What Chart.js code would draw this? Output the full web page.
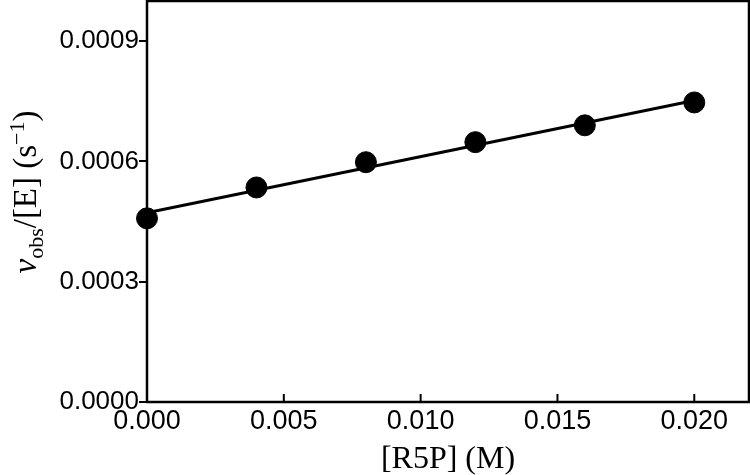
<!DOCTYPE html>
<html>
<head>
<meta charset="utf-8">
<script src="https://cdn.jsdelivr.net/npm/chart.js@4.4.0/dist/chart.umd.min.js"></script>
<style>
  html, body { margin: 0; padding: 0; background: #fff; }
  #wrap { width: 750px; height: 475px; }
</style>
</head>
<body>
<div id="wrap"><canvas id="chart1" width="750" height="475"></canvas></div>
<script>
// measured points
const concR5P = [0, 0.004, 0.008, 0.012, 0.016, 0.020];
const vObsE = [0.000458, 0.000535, 0.000598, 0.000648, 0.000690, 0.000747];
// fitted line end points
const fitX = [0, 0.020];
const fitY = [0.000472, 0.000752];

const xTicks = [0, 0.005, 0.010, 0.015, 0.020];
const yTicks = [0, 0.0003, 0.0006, 0.0009];

const tickFont = '"Liberation Sans", Arial, sans-serif';
const titleFont = '"Liberation Serif", "Times New Roman", serif';

const framePlugin = {
    id: 'frame',
    afterDraw(chart) {
        const { ctx, chartArea: a, scales } = chart;
        ctx.save();
        ctx.strokeStyle = '#000';
        ctx.lineWidth = 2.5;
        ctx.strokeRect(a.left, a.top, a.right - a.left, a.bottom - a.top);

        // inward x tick marks
        ctx.lineWidth = 2;
        xTicks.forEach(v => {
            const px = scales.x.getPixelForValue(v);
            ctx.beginPath();
            ctx.moveTo(px, a.bottom);
            ctx.lineTo(px, a.bottom - 8);
            ctx.stroke();
        });

        // x title
        ctx.fillStyle = '#000';
        ctx.font = '32px ' + titleFont;
        ctx.textAlign = 'center';
        ctx.textBaseline = 'alphabetic';
        ctx.fillText('[R5P] (M)', (a.left + a.right) / 2, 468);

        // y title, rotated rich text
        const big = '33px ' + titleFont;
        const small = '22px ' + titleFont;
        const parts = [
            { t: 'v', f: 'italic ' + big, dy: 0 },
            { t: 'obs', f: small, dy: 7 },
            { t: '/[E] (s', f: big, dy: 0 },
            { t: '\u22121', f: small, dy: -12 },
            { t: ')', f: big, dy: 0 },
        ];
        let total = 0;
        parts.forEach(p => { ctx.font = p.f; p.w = ctx.measureText(p.t).width; total += p.w; });
        ctx.translate(36, 192);
        ctx.rotate(-Math.PI / 2);
        ctx.textAlign = 'left';
        let x = -total / 2;
        parts.forEach(p => {
            ctx.font = p.f;
            ctx.fillText(p.t, x, p.dy);
            x += p.w;
        });
        ctx.restore();
    }
};

const ctx = document.getElementById('chart1').getContext('2d');
new Chart(ctx, {
    type: 'scatter',
    data: {
        datasets: [
            {
                label: 'fit',
                data: fitX.map((x, i) => ({ x: x, y: fitY[i] })),
                showLine: true,
                borderColor: '#000',
                borderWidth: 3,
                pointRadius: 0,
                clip: false,
            },
            {
                label: 'data',
                data: concR5P.map((x, i) => ({ x: x, y: vObsE[i] })),
                backgroundColor: '#000',
                borderColor: '#000',
                pointRadius: 10.5,
                pointHoverRadius: 10.5,
                clip: false,
            }
        ]
    },
    options: {
        responsive: false,
        animation: false,
        devicePixelRatio: 1,
        layout: { autoPadding: false, padding: { top: 1, right: 1, left: 0, bottom: 0 } },
        plugins: { legend: { display: false }, tooltip: { enabled: false } },
        scales: {
            x: {
                type: 'linear',
                min: 0,
                max: 0.022,
                afterFit(s) { s.height = 73; s.paddingLeft = 0; s.paddingRight = 0; },
                afterBuildTicks(s) { s.ticks = xTicks.map(v => ({ value: v })); },
                grid: { display: false, drawTicks: false },
                border: { display: false },
                ticks: {
                    color: '#000',
                    padding: 3,
                    maxRotation: 0,
                    font: { family: tickFont, size: 27 },
                    callback: v => v.toFixed(3),
                },
            },
            y: {
                type: 'linear',
                min: 0,
                max: 0.001,
                afterFit(s) { s.width = 147; s.paddingTop = 0; s.paddingBottom = 0; },
                afterBuildTicks(s) { s.ticks = yTicks.map(v => ({ value: v })); },
                grid: { drawOnChartArea: false, tickLength: 8, color: '#000', lineWidth: 2 },
                border: { display: false },
                ticks: {
                    color: '#000',
                    padding: 0,
                    font: { family: tickFont, size: 26 },
                    callback: v => v.toFixed(4),
                },
            }
        }
    },
    plugins: [framePlugin]
});
</script>
</body>
</html>
